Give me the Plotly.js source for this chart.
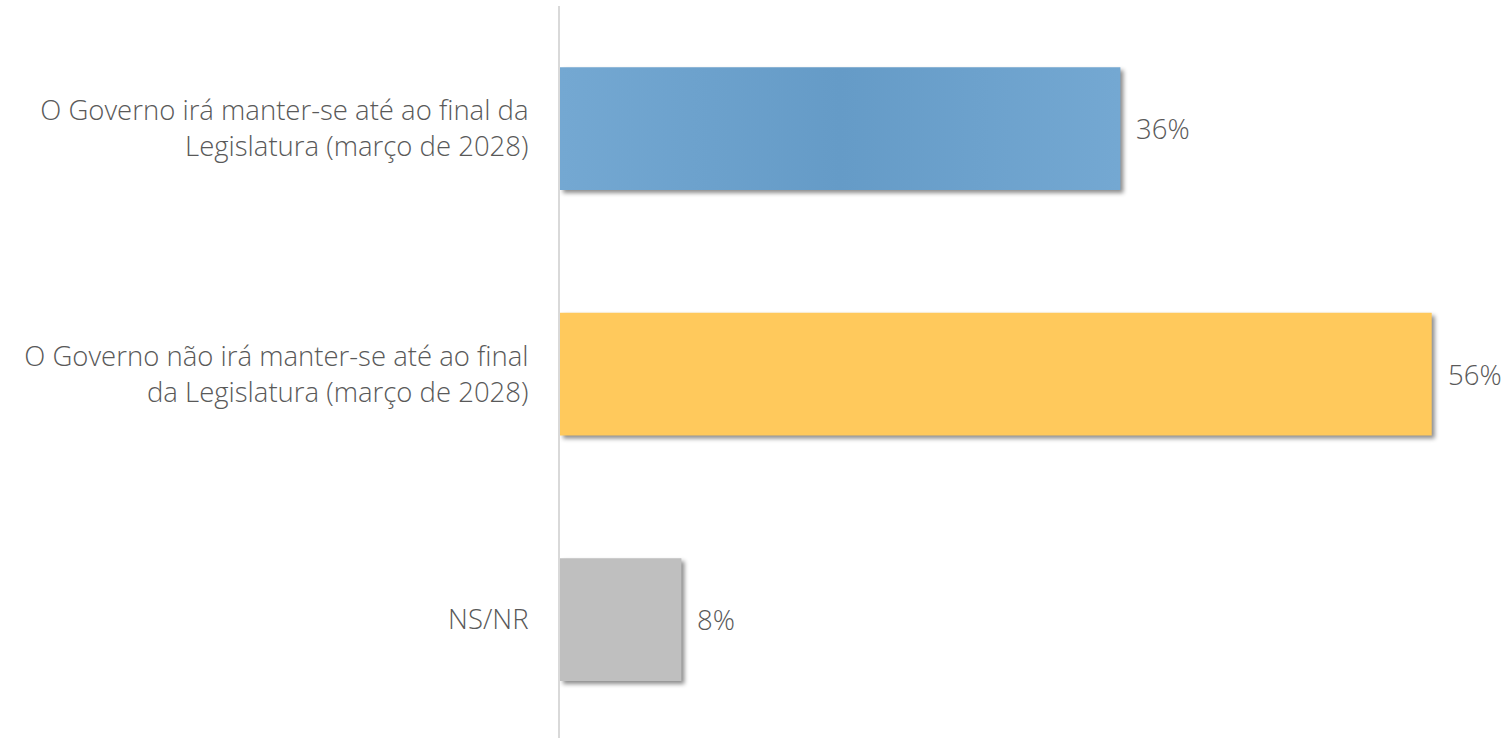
<!DOCTYPE html>
<html>
<head>
<meta charset="utf-8">
<script src="https://cdn.plot.ly/plotly-3.0.1.min.js"></script>
<style>
  html, body { margin: 0; padding: 0; background: #ffffff; }
  #chart { width: 1509px; height: 738px; }
  .trace.bars .point path { filter: drop-shadow(3px 3px 2px rgba(0,0,0,0.45)); }
  .trace.bars .point:nth-child(1) path { fill: url(#blueGrad) !important; }
</style>
</head>
<body>
<svg width="0" height="0" style="position:absolute">
  <defs>
    <linearGradient id="blueGrad" x1="0" y1="0" x2="1" y2="0">
      <stop offset="0%" stop-color="#74A8D2"/>
      <stop offset="50%" stop-color="#659BC7"/>
      <stop offset="100%" stop-color="#74A8D2"/>
    </linearGradient>
  </defs>
</svg>
<div id="chart"></div>
<script>
const categories = [
  "O Governo irá manter-se até ao final da<br>Legislatura (março de 2028)",
  "O Governo não irá manter-se até ao final<br>da Legislatura (março de 2028)",
  "NS/NR"
];
const values = [36, 56, 7.8];
const valueLabels = ["36%", "56%", "8%"];
const barColors = ["#6BA1CB", "#FFC95C", "#BFBFBF"];

const fontFamily = "'Open Sans', 'Noto Sans', sans-serif";

const trace = {
  type: "bar",
  orientation: "h",
  y: categories,
  x: values,
  marker: { color: barColors, line: { width: 0 } },
  hoverinfo: "none"
};

const annotations = values.map((v, i) => ({
  x: v,
  y: categories[i],
  xref: "x",
  yref: "y",
  text: valueLabels[i],
  showarrow: false,
  xanchor: "left",
  yanchor: "middle",
  xshift: 14,
  font: { family: fontFamily, size: 27.5, color: "#595959", weight: 300 }
}));

const layout = {
  width: 1509,
  height: 738,
  margin: { l: 560, r: 15, t: 6, b: 0 },
  paper_bgcolor: "#ffffff",
  plot_bgcolor: "#ffffff",
  showlegend: false,
  bargap: 0.5,
  xaxis: {
    range: [0, 60],
    showgrid: false,
    zeroline: false,
    showticklabels: false,
    showline: false,
    fixedrange: true
  },
  yaxis: {
    range: [2.482, -0.5],
    showgrid: false,
    zeroline: false,
    showline: true,
    linecolor: "#D9D9D9",
    linewidth: 2,
    ticks: "",
    ticklabelstandoff: 24,
    tickfont: { family: fontFamily, size: 27.5, color: "#595959", weight: 300 },
    fixedrange: true
  },
  annotations: annotations
};

Plotly.newPlot("chart", [trace], layout, { displayModeBar: false, staticPlot: true });
</script>
</body>
</html>
